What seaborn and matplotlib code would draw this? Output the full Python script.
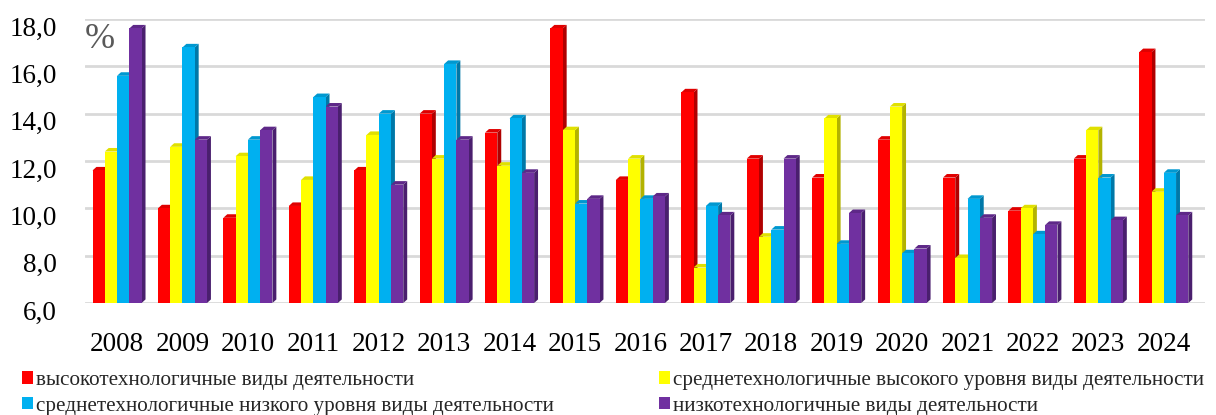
import matplotlib
matplotlib.use("Agg")
import matplotlib.pyplot as plt
import matplotlib.transforms as mtransforms
from matplotlib.patches import Patch, Polygon
import pandas as pd
import seaborn as sns

years = [str(y) for y in range(2008, 2025)]

series_names = [
    "высокотехнологичные виды деятельности",
    "среднетехнологичные высокого уровня виды деятельности",
    "среднетехнологичные низкого уровня виды деятельности",
    "низкотехнологичные виды деятельности",
]

high_tech = [11.6, 10.0, 9.6, 10.1, 11.6, 14.0, 13.2, 17.6, 11.2, 14.9, 12.1, 11.3, 12.9, 11.3, 9.9, 12.1, 16.6]
mid_high_tech = [12.4, 12.6, 12.2, 11.2, 13.1, 12.1, 11.8, 13.3, 12.1, 7.5, 8.8, 13.8, 14.3, 7.9, 10.0, 13.3, 10.7]
mid_low_tech = [15.6, 16.8, 12.9, 14.7, 14.0, 16.1, 13.8, 10.2, 10.4, 10.1, 9.1, 8.5, 8.1, 10.4, 8.9, 11.3, 11.5]
low_tech = [17.6, 12.9, 13.3, 14.3, 11.0, 12.9, 11.5, 10.4, 10.5, 9.7, 12.1, 9.8, 8.3, 9.6, 9.3, 9.5, 9.7]

y_ticks = [6, 8, 10, 12, 14, 16, 18]
y_labels = [f"{v:.1f}".replace(".", ",") for v in y_ticks]

front_colors = ["#FF0000", "#FFFF00", "#00B0F0", "#7030A0"]
side_colors = ["#B00000", "#B3B300", "#0078A8", "#4A1F6E"]
top_colors = ["#E00000", "#E0E000", "#0098D0", "#5E2888"]

df = pd.DataFrame({
    "year": years,
    series_names[0]: high_tech,
    series_names[1]: mid_high_tech,
    series_names[2]: mid_low_tech,
    series_names[3]: low_tech,
}).melt(id_vars="year", var_name="series", value_name="value")

sns.set_style("white")
plt.rcParams["font.family"] = ["Liberation Serif", "DejaVu Serif"]

fig = plt.figure(figsize=(12.16, 4.15), dpi=100)
ax = fig.add_axes([85 / 1216, 112 / 415, 1120 / 1216, 284 / 415])

sns.barplot(
    data=df, x="year", y="value", hue="series", hue_order=series_names,
    palette=front_colors, saturation=1, width=0.75, gap=0, errorbar=None,
    legend=False, linewidth=0, zorder=3, ax=ax,
)

# fake 3D: side and top faces built from the drawn bars
dx, dy = 0.06, 0.15
bars = list(ax.patches)
n_years = len(years)
for i, p in enumerate(bars):
    s = i // n_years
    x0, w, h = p.get_x(), p.get_width(), p.get_height()
    side = Polygon(
        [(x0 + w, 6), (x0 + w + dx, 6 + dy), (x0 + w + dx, h + dy), (x0 + w, h)],
        closed=True, facecolor=side_colors[s], edgecolor="none", zorder=2,
    )
    top = Polygon(
        [(x0, h), (x0 + dx, h + dy), (x0 + w + dx, h + dy), (x0 + w, h)],
        closed=True, facecolor=top_colors[s], edgecolor="none", zorder=2,
    )
    ax.add_patch(side)
    ax.add_patch(top)

ax.set_ylim(6, 18)
ax.set_xlim(-0.49, 16.63)
ax.set_yticks(y_ticks)
ax.set_yticklabels(y_labels)
ax.set_xlabel("")
ax.set_ylabel("")
ax.yaxis.grid(True, color="#D9D9D9", linewidth=2)
ax.set_axisbelow(True)
sns.despine(ax=ax, left=True, bottom=True)
ax.tick_params(axis="both", length=0, labelsize=19.5, colors="black")
ax.tick_params(axis="y", pad=20)
ax.tick_params(axis="x", pad=21)

offset = mtransforms.ScaledTranslation(0, -7 / 100, fig.dpi_scale_trans)
for lab in ax.get_yticklabels():
    lab.set_transform(lab.get_transform() + offset)

ax.text(0.0, 0.985, "%", transform=ax.transAxes, fontsize=26,
        color="#595959", ha="left", va="top")

handles = [Patch(facecolor=c, edgecolor="none") for c in front_colors]
order = [0, 2, 1, 3]
fig.legend(
    handles=[handles[i] for i in order],
    labels=[series_names[i] for i in order],
    loc="upper left", bbox_to_anchor=(22 / 1216, 1 - 371 / 415),
    ncol=2, frameon=False, fontsize=15.2,
    handlelength=0.5, handleheight=0.5, handletextpad=0.15,
    columnspacing=5.0, labelspacing=0.32, borderpad=0, borderaxespad=0,
)

fig.savefig("out.png", dpi=100)
